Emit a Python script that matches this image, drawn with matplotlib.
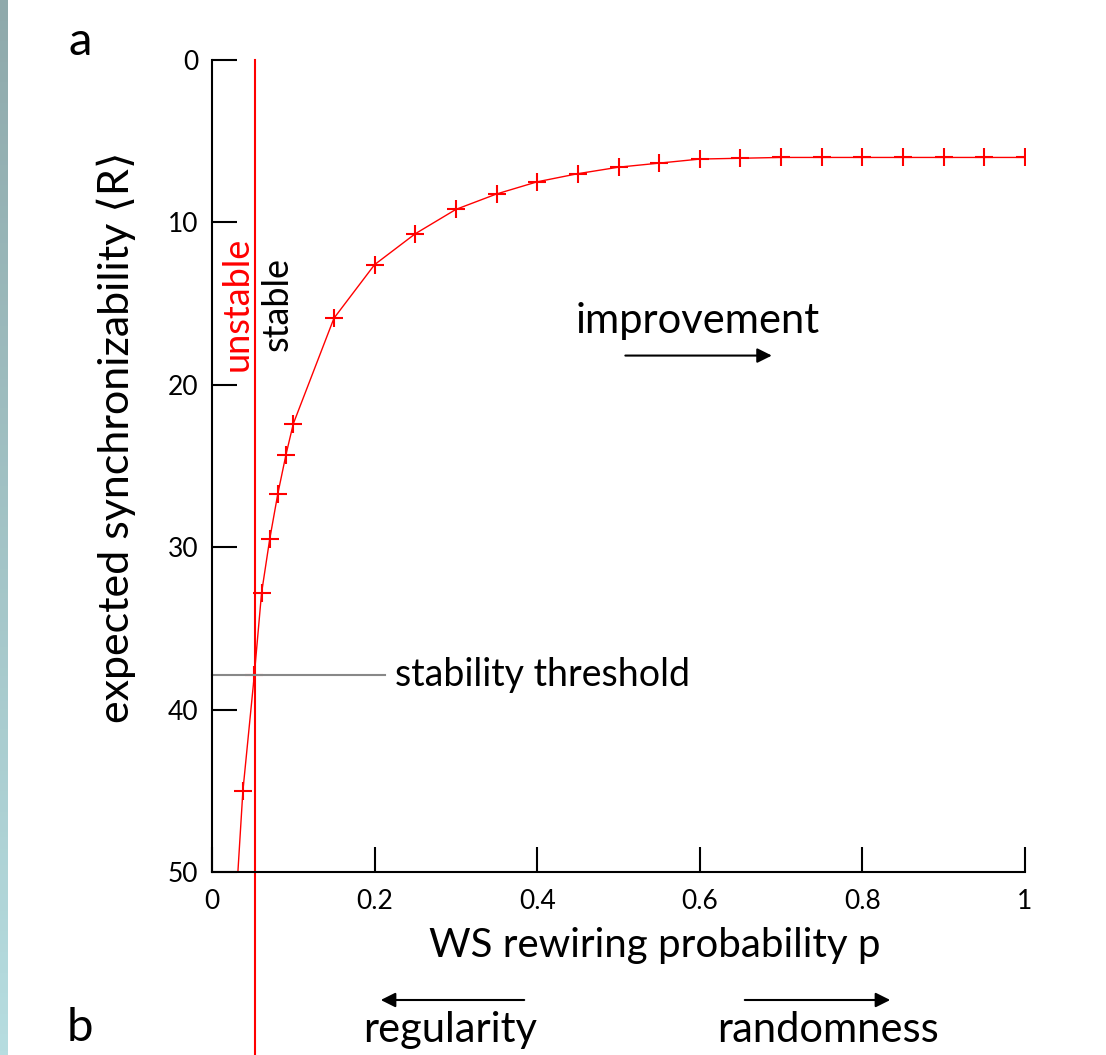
import numpy as np
import matplotlib
matplotlib.use('Agg')
from matplotlib import pyplot as plt

plt.rcParams['font.family'] = ['Lato', 'DejaVu Sans']

# WS rewiring probability p and expected synchronizability <R>
p = [0.03, 0.038, 0.052, 0.061, 0.071, 0.081, 0.091, 0.1, 0.15, 0.2, 0.25, 0.3,
     0.35, 0.4, 0.45, 0.5, 0.55, 0.6, 0.65, 0.7, 0.75, 0.8, 0.85, 0.9, 0.95, 1.0]
R = [51.5, 45.0, 37.9, 32.8, 29.5, 26.7, 24.3, 22.4, 15.9, 12.6, 10.7, 9.2,
     8.25, 7.5, 7.0, 6.6, 6.35, 6.1, 6.05, 6.0, 6.0, 6.0, 6.0, 6.0, 6.0, 6.0]
p_stable = 0.053
R_threshold = 37.9
xticks = [0, 0.2, 0.4, 0.6, 0.8, 1]
xticklabels = ['0', '0.2', '0.4', '0.6', '0.8', '1']
yticks = [0, 10, 20, 30, 40, 50]

fig = plt.figure(figsize=(11.06, 10.55), dpi=100)

# gradient strip on the left edge
strip = fig.add_axes([0, 0, 8 / 1106, 1])
grad = np.linspace(0, 1, 256).reshape(-1, 1)
top = np.array([0x8f, 0xa9, 0xab]) / 255
bot = np.array([0xb6, 0xdd, 0xe0]) / 255
img = top[None, None, :] * (1 - grad[:, :, None]) + bot[None, None, :] * grad[:, :, None]
strip.imshow(img, aspect='auto')
strip.axis('off')

ax = fig.add_axes([212 / 1106, 1 - 872 / 1055, 813 / 1106, 812 / 1055])
ax.plot(p, R, color='red', lw=1.0, marker='+', ms=13, mew=1.5)
ax.axvline(p_stable, ymin=-0.23, ymax=1, color='red', lw=1.5, clip_on=False)
ax.plot([0, 0.213], [R_threshold, R_threshold], color='#888888', lw=1.5, clip_on=False)

ax.set_xlim(0, 1)
ax.set_ylim(50, 0)
ax.set_xticks(xticks)
ax.set_xticklabels(xticklabels)
ax.set_yticks(yticks)
for s in ['top', 'right']:
    ax.spines[s].set_visible(False)
for s in ['left', 'bottom']:
    ax.spines[s].set_linewidth(1.5)
ax.tick_params(direction='in', length=18, width=1.5, labelsize=19, pad=10)
ax.tick_params(axis='x', pad=12)

ax.set_xlabel('WS rewiring probability p', fontsize=29)
ax.xaxis.set_label_coords(0.545, -0.068)
ax.set_ylabel('expected synchronizability \u27e8R\u27e9', fontsize=31)
ax.yaxis.set_label_coords(-0.093, 0.536)

ax.text(0.031, 15.0, 'unstable', color='red', rotation=90, fontsize=26,
        ha='center', va='center')
ax.text(0.08, 15.0, 'stable', color='black', rotation=90, fontsize=26,
        ha='center', va='center')
ax.text(0.225, R_threshold, 'stability threshold', fontsize=27, va='center', ha='left')
ax.text(0.598, 16.1, 'improvement', fontsize=30, ha='center', va='center')
ax.annotate('', xy=(0.692, 18.2), xytext=(0.505, 18.2),
            arrowprops=dict(arrowstyle='-|>', color='black', lw=1.5, mutation_scale=22))

fig.text(80 / 1106, 1 - 42 / 1055, 'a', fontsize=34, ha='center', va='center')
fig.text(80 / 1106, 1 - 1028 / 1055, 'b', fontsize=34, ha='center', va='center')

fig.text(450 / 1106, 1 - 1030 / 1055, 'regularity', fontsize=30, ha='center', va='center')
fig.text(828 / 1106, 1 - 1030 / 1055, 'randomness', fontsize=30, ha='center', va='center')
fig.add_artist(matplotlib.patches.FancyArrowPatch(
    (527 / 1106, 1 - 1000 / 1055), (378 / 1106, 1 - 1000 / 1055),
    transform=fig.transFigure, arrowstyle='-|>', color='black', lw=1.5, mutation_scale=22))
fig.add_artist(matplotlib.patches.FancyArrowPatch(
    (742 / 1106, 1 - 1000 / 1055), (893 / 1106, 1 - 1000 / 1055),
    transform=fig.transFigure, arrowstyle='-|>', color='black', lw=1.5, mutation_scale=22))

fig.savefig('out.png', dpi=100)
